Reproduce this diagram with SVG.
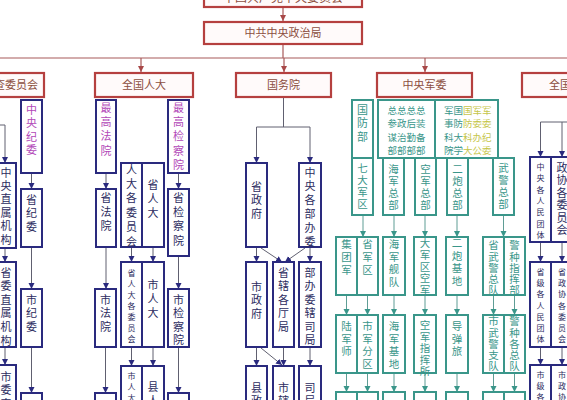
<svg xmlns="http://www.w3.org/2000/svg" width="567" height="400" viewBox="0 0 567 400">
<style>
text{font-family:"Noto Sans CJK SC","Noto Sans",sans-serif}
.r{fill:#fffafa;stroke:#b5403f;stroke-width:2.2}
.rt{font-size:11px;fill:#8c4e3e;text-anchor:middle}
.b{fill:#fff;stroke:#2a2a7e;stroke-width:2}
.g{fill:#fff;stroke:#3a968a;stroke-width:2}
.v{writing-mode:vertical-rl;font-size:11px;fill:#2c2c60}
.p{fill:#b248b8}
.gt{fill:#3a968a}
.yt{fill:#c6c64a}
.s{font-size:8px}
.m{font-size:10.5px}
.h{font-size:9.5px;fill:#3a968a}
.rc{stroke:#a85a5a;stroke-width:1.2;fill:none}
.bc{stroke:#606070;stroke-width:1;fill:none}
.gc{stroke:#5f9d95;stroke-width:1;fill:none}
</style>
<defs>
<marker id="ar" markerUnits="userSpaceOnUse" markerWidth="7" markerHeight="7" refX="6" refY="3" orient="auto"><path d="M0,0L6,3L0,6z" fill="#a84848"/></marker>
<marker id="ab" markerUnits="userSpaceOnUse" markerWidth="7" markerHeight="7" refX="6" refY="3" orient="auto"><path d="M0,0L6,3L0,6z" fill="#2a2a7e"/></marker>
<marker id="ag" markerUnits="userSpaceOnUse" markerWidth="7" markerHeight="7" refX="6" refY="3" orient="auto"><path d="M0,0L6,3L0,6z" fill="#3a968a"/></marker>
</defs>

<g id="connectors">
<path class="rc" d="M283,7V21" marker-end="url(#ar)"/>
<path class="rc" d="M283,44V58M0,58H567"/>
<path class="rc" d="M141,58V72" marker-end="url(#ar)"/>
<path class="rc" d="M284,58V72" marker-end="url(#ar)"/>
<path class="rc" d="M425,58V72" marker-end="url(#ar)"/>

<path class="bc" d="M-10,125H5V163" marker-end="url(#ab)"/>
<path class="bc" d="M5,248V262" marker-end="url(#ab)"/>
<path class="bc" d="M5,347V365" marker-end="url(#ab)"/>
<path class="bc" d="M31.5,173V189" marker-end="url(#ab)"/>
<path class="bc" d="M31.5,247V289" marker-end="url(#ab)"/>
<path class="bc" d="M31.5,347V393" marker-end="url(#ab)"/>
<path class="bc" d="M106,173V189" marker-end="url(#ab)"/>
<path class="bc" d="M178.5,173V189" marker-end="url(#ab)"/>
<path class="bc" d="M106,247V289" marker-end="url(#ab)"/>
<path class="bc" d="M178.5,256V289" marker-end="url(#ab)"/>
<path class="bc" d="M131.5,247V262" marker-end="url(#ab)"/>
<path class="bc" d="M153,247V262" marker-end="url(#ab)"/>
<path class="bc" d="M131.5,347V366" marker-end="url(#ab)"/>
<path class="bc" d="M153,347V366" marker-end="url(#ab)"/>
<path class="bc" d="M105.5,347V393" marker-end="url(#ab)"/>
<path class="bc" d="M178.5,347V393" marker-end="url(#ab)"/>

<path class="bc" d="M283.5,98V127M256.5,127H310"/>
<path class="bc" d="M256.5,127V163" marker-end="url(#ab)"/>
<path class="bc" d="M310,127V163" marker-end="url(#ab)"/>
<path class="bc" d="M256.5,247V262" marker-end="url(#ab)"/>
<path class="bc" d="M261,248L282,262" marker-end="url(#ab)"/>
<path class="bc" d="M305,248L285,262" marker-end="url(#ab)"/>
<path class="bc" d="M310,247V262" marker-end="url(#ab)"/>
<path class="bc" d="M256.5,347V366" marker-end="url(#ab)"/>
<path class="bc" d="M261,348L282,365" marker-end="url(#ab)"/>
<path class="bc" d="M283.5,347V366" marker-end="url(#ab)"/>
<path class="bc" d="M310,347V366" marker-end="url(#ab)"/>

<path class="bc" d="M540.5,122H567"/>
<path class="bc" d="M540.5,122V157" marker-end="url(#ab)"/>
<path class="bc" d="M562,122V157" marker-end="url(#ab)"/>
<path class="bc" d="M540.5,242V262" marker-end="url(#ab)"/>
<path class="bc" d="M562,242V262" marker-end="url(#ab)"/>
<path class="bc" d="M540.5,347V365" marker-end="url(#ab)"/>
<path class="bc" d="M562,347V365" marker-end="url(#ab)"/>

<path class="gc" d="M363,215V237" marker-end="url(#ag)"/>
<path class="gc" d="M394,215V237" marker-end="url(#ag)"/>
<path class="gc" d="M425,215V237" marker-end="url(#ag)"/>
<path class="gc" d="M457,215V237" marker-end="url(#ag)"/>
<path class="gc" d="M503.5,215V237" marker-end="url(#ag)"/>
<path class="gc" d="M346.5,295V315" marker-end="url(#ag)"/>
<path class="gc" d="M367.5,295V315" marker-end="url(#ag)"/>
<path class="gc" d="M394,295V315" marker-end="url(#ag)"/>
<path class="gc" d="M425,295V315" marker-end="url(#ag)"/>
<path class="gc" d="M457,295V315" marker-end="url(#ag)"/>
<path class="gc" d="M493.5,295V315" marker-end="url(#ag)"/>
<path class="gc" d="M514.5,295V315" marker-end="url(#ag)"/>
<path class="gc" d="M346.5,373V392" marker-end="url(#ag)"/>
<path class="gc" d="M367.5,373V392" marker-end="url(#ag)"/>
<path class="gc" d="M394,373V392" marker-end="url(#ag)"/>
<path class="gc" d="M425,373V392" marker-end="url(#ag)"/>
<path class="gc" d="M457,373V392" marker-end="url(#ag)"/>
<path class="gc" d="M493.5,373V392" marker-end="url(#ag)"/>
<path class="gc" d="M514.5,373V392" marker-end="url(#ag)"/>
</g>

<g id="n-top"><rect class="r" x="204" y="-20" width="158" height="27"/><text class="rt" x="283" y="1.5" style="font-size:12px">中国共产党中央委员会</text></g>
<g id="n-zzj"><rect class="r" x="204" y="22" width="158" height="22"/><text class="rt" x="283" y="37">中共中央政治局</text></g>
<g id="n-jwh"><rect class="r" x="-60" y="73" width="104" height="24"/><text class="rt" x="38" y="89" style="text-anchor:end">纪律检查委员会</text></g>
<g id="n-qgrd"><rect class="r" x="95" y="73" width="98" height="24"/><text class="rt" x="144" y="89">全国人大</text></g>
<g id="n-gwy"><rect class="r" x="236" y="73" width="95" height="24"/><text class="rt" x="283.5" y="89">国务院</text></g>
<g id="n-zyjw"><rect class="r" x="377" y="73" width="95" height="24"/><text class="rt" x="424.5" y="89">中央军委</text></g>
<g id="n-qgzx"><rect class="r" x="522" y="73" width="100" height="24"/><text class="rt" x="571" y="89">全国政协</text></g>

<g id="n-zyzs"><rect class="b" x="-4" y="163" width="20" height="85"/><text class="v" x="6" y="167" letter-spacing="2.4">中央直属机构</text></g>
<g id="n-swzs"><rect class="b" x="-4" y="262" width="20" height="85"/><text class="v" x="6" y="267" letter-spacing="2.6">省委直属机构</text></g>
<g id="n-shiwzs"><rect class="b" x="-4" y="365" width="20" height="60"/><text class="v" x="6" y="371" letter-spacing="2.6">市委直属机构</text></g>
<g id="n-zyjwjw"><rect class="b" x="21" y="100" width="21" height="73"/><text class="v p" x="31.5" y="104" letter-spacing="2.5">中央纪委</text></g>
<g id="n-sjw"><rect class="b" x="21" y="189" width="21" height="58"/><text class="v" x="31.5" y="194" letter-spacing="2.5">省纪委</text></g>
<g id="n-shijw"><rect class="b" x="21" y="289" width="21" height="58"/><text class="v" x="31.5" y="294" letter-spacing="2.5">市纪委</text></g>
<g id="n-xjw"><rect class="b" x="21" y="393" width="21" height="40"/></g>

<g id="n-zgfy"><rect class="b" x="96" y="100" width="20" height="73"/><text class="v p" x="106" y="102" letter-spacing="3.4">最高法院</text></g>
<g id="n-zgjcy"><rect class="b" x="168" y="100" width="21" height="73"/><text class="v p" x="178.5" y="102" letter-spacing="3.4">最高检察院</text></g>
<g id="n-sfy"><rect class="b" x="96" y="189" width="20" height="58"/><text class="v" x="106" y="192" letter-spacing="3.4">省法院</text></g>
<g id="n-sjcy"><rect class="b" x="168" y="189" width="21" height="67"/><text class="v" x="178.5" y="192" letter-spacing="3.4">省检察院</text></g>
<g id="n-rdgwyh"><rect class="b" x="121" y="163" width="21" height="84"/><text class="v" x="131.5" y="164" letter-spacing="3.4">人大各委员会</text></g>
<g id="n-srd"><rect class="b" x="142" y="163" width="22" height="84"/><text class="v" x="153" y="179" letter-spacing="3.4">省人大</text></g>
<g id="n-srdgw"><rect class="b" x="121" y="262" width="21" height="85"/><text class="v s" x="131.5" y="269" letter-spacing="3">省人大各委员会</text></g>
<g id="n-shird"><rect class="b" x="142" y="262" width="22" height="85"/><text class="v" x="153" y="279" letter-spacing="3">市人大</text></g>
<g id="n-shify"><rect class="b" x="95" y="289" width="21" height="58"/><text class="v" x="105.5" y="294" letter-spacing="2.5">市法院</text></g>
<g id="n-shijcy"><rect class="b" x="168" y="289" width="21" height="58"/><text class="v" x="178.5" y="294" letter-spacing="2.5">市检察院</text></g>
<g id="n-shirdgw"><rect class="b" x="121" y="366" width="21" height="60"/><text class="v s" x="131.5" y="372" letter-spacing="3">市人大各委员会</text></g>
<g id="n-xrd"><rect class="b" x="142" y="366" width="22" height="60"/><text class="v" x="153" y="381" letter-spacing="3">县人大</text></g>
<g id="n-xfy"><rect class="b" x="95" y="393" width="21" height="40"/></g>
<g id="n-xjcy"><rect class="b" x="168" y="393" width="21" height="40"/></g>

<g id="n-szf"><rect class="b" x="246" y="163" width="21" height="84"/><text class="v" x="256.5" y="181" letter-spacing="2.5">省政府</text></g>
<g id="n-zybbw"><rect class="b" x="299" y="163" width="22" height="84"/><text class="v" x="310" y="167" letter-spacing="2.8">中央各部办委</text></g>
<g id="n-shizf"><rect class="b" x="246" y="262" width="21" height="85"/><text class="v" x="256.5" y="281" letter-spacing="2.5">市政府</text></g>
<g id="n-sxgtj"><rect class="b" x="273" y="262" width="21" height="85"/><text class="v" x="283.5" y="267" letter-spacing="2.5">省辖各厅局</text></g>
<g id="n-bbwxsj"><rect class="b" x="299" y="262" width="22" height="85"/><text class="v" x="310" y="267" letter-spacing="2.5">部办委辖司局</text></g>
<g id="n-xzf"><rect class="b" x="246" y="366" width="21" height="60"/><text class="v" x="256.5" y="382" letter-spacing="2.5">县政府</text></g>
<g id="n-shixgj"><rect class="b" x="273" y="366" width="21" height="60"/><text class="v" x="283.5" y="382" letter-spacing="2.5">市辖各局</text></g>
<g id="n-sj"><rect class="b" x="299" y="366" width="22" height="60"/><text class="v" x="310" y="382" letter-spacing="2.5">司局</text></g>

<g id="n-gfb"><rect class="g" x="352" y="100" width="21" height="58"/><text class="v gt" x="362.5" y="104" letter-spacing="2.5">国防部</text></g>
<g id="n-sizongbu"><rect class="g" x="378" y="100" width="57" height="58"/>
<text class="h" x="406.5" y="113.5" text-anchor="middle">总总总总</text>
<text class="h" x="406.5" y="127" text-anchor="middle">参政后装</text>
<text class="h" x="406.5" y="140.5" text-anchor="middle">谋治勤备</text>
<text class="h" x="406.5" y="154" text-anchor="middle">部部部部</text></g>
<g id="n-junweizs"><rect class="g" x="435" y="100" width="63" height="58"/>
<text class="h" x="444" y="113.5">军国<tspan class="yt">国军军</tspan></text>
<text class="h" x="444" y="127">事防<tspan class="yt">防委委</tspan></text>
<text class="h" x="444" y="140.5">科大<tspan class="yt">科办纪</tspan></text>
<text class="h" x="444" y="154">院学<tspan class="yt">大公委</tspan></text></g>
<g id="n-qdjq"><rect class="g" x="352" y="158" width="21" height="57"/><text class="v gt m" x="362.5" y="163" letter-spacing="1.3">七大军区</text></g>
<g id="n-hjzb"><rect class="g" x="383" y="158" width="21" height="57"/><text class="v gt m" x="393.5" y="164" letter-spacing="1.3">海军总部</text></g>
<g id="n-kjzb"><rect class="g" x="415" y="158" width="21" height="57"/><text class="v gt m" x="425.5" y="164" letter-spacing="1.3">空军总部</text></g>
<g id="n-epzb"><rect class="g" x="447" y="158" width="21" height="57"/><text class="v gt m" x="457.5" y="164" letter-spacing="1.3">二炮总部</text></g>
<g id="n-wjzb"><rect class="g" x="493" y="158" width="21" height="57"/><text class="v gt m" x="503.5" y="163" letter-spacing="1.3">武警总部</text></g>

<g id="n-jtj"><rect class="g" x="336" y="237" width="21" height="58"/><text class="v gt m" x="346.5" y="239" letter-spacing="2.5">集团军</text></g>
<g id="n-sjq"><rect class="g" x="357" y="237" width="21" height="58"/><text class="v gt m" x="367.5" y="239" letter-spacing="2.5">省军区</text></g>
<g id="n-hjjd"><rect class="g" x="383" y="237" width="22" height="58"/><text class="v gt m" x="394" y="239" letter-spacing="2">海军舰队</text></g>
<g id="n-djqkj"><rect class="g" x="414" y="237" width="22" height="58"/><text class="v gt m" x="425" y="238" letter-spacing="1.2">大军区空军</text></g>
<g id="n-epjd"><rect class="g" x="446" y="237" width="22" height="58"/><text class="v gt m" x="457" y="238" letter-spacing="2">二炮基地</text></g>
<g id="n-swjzd"><rect class="g" x="483" y="237" width="21" height="58"/><text class="v gt m" x="493.5" y="240" letter-spacing="0.8">省武警总队</text></g>
<g id="n-jzzhb"><rect class="g" x="504" y="237" width="21" height="58"/><text class="v gt m" x="514.5" y="240" letter-spacing="0.8">警种指挥部</text></g>

<g id="n-ljs"><rect class="g" x="336" y="315" width="21" height="58"/><text class="v gt m" x="346.5" y="321" letter-spacing="2">陆军师</text></g>
<g id="n-sjfq"><rect class="g" x="357" y="315" width="21" height="58"/><text class="v gt m" x="367.5" y="321" letter-spacing="2">市军分区</text></g>
<g id="n-hjjd2"><rect class="g" x="383" y="315" width="22" height="58"/><text class="v gt m" x="394" y="321" letter-spacing="2">海军基地</text></g>
<g id="n-kjzhs"><rect class="g" x="414" y="315" width="22" height="58"/><text class="v gt m" x="425" y="320" letter-spacing="1">空军指挥所</text></g>
<g id="n-ddl"><rect class="g" x="446" y="315" width="22" height="58"/><text class="v gt m" x="457" y="321" letter-spacing="2">导弹旅</text></g>
<g id="n-shiwjzd"><rect class="g" x="483" y="315" width="21" height="58"/><text class="v gt m" x="493.5" y="316" letter-spacing="0.8">市武警支队</text></g>
<g id="n-jzgzd"><rect class="g" x="504" y="315" width="21" height="58"/><text class="v gt m" x="514.5" y="316" letter-spacing="0.8">警种各总队</text></g>

<g id="n-r4a"><rect class="g" x="336" y="392" width="21" height="40"/></g>
<g id="n-r4b"><rect class="g" x="357" y="392" width="21" height="40"/></g>
<g id="n-r4c"><rect class="g" x="383" y="392" width="22" height="40"/></g>
<g id="n-r4d"><rect class="g" x="414" y="392" width="22" height="40"/></g>
<g id="n-r4e"><rect class="g" x="446" y="392" width="22" height="40"/></g>
<g id="n-r4f"><rect class="g" x="483" y="392" width="21" height="40"/></g>
<g id="n-r4g"><rect class="g" x="504" y="392" width="21" height="40"/></g>

<g id="n-zygrmtt"><rect class="b" x="530" y="157" width="21" height="85"/><text class="v s" x="540.5" y="163" letter-spacing="3.3">中央各人民团体</text></g>
<g id="n-zxgwyh"><rect class="b" x="551" y="157" width="24" height="85"/><text class="v" x="562" y="162" letter-spacing="1.5">政协各委员会</text></g>
<g id="n-sjgrmtt"><rect class="b" x="530" y="262" width="21" height="85"/><text class="v s" x="540.5" y="268" letter-spacing="3.2">省级各人民团体</text></g>
<g id="n-szxgwyh"><rect class="b" x="551" y="262" width="24" height="85"/><text class="v s" x="562" y="268" letter-spacing="3.2">省政协各委员会</text></g>
<g id="n-shijgrmtt"><rect class="b" x="530" y="365" width="21" height="60"/><text class="v s" x="540.5" y="371" letter-spacing="3.2">市级各人民团体</text></g>
<g id="n-shizxgw"><rect class="b" x="551" y="365" width="24" height="60"/><text class="v s" x="562" y="371" letter-spacing="3.2">市政协各委员会</text></g>
</svg>
